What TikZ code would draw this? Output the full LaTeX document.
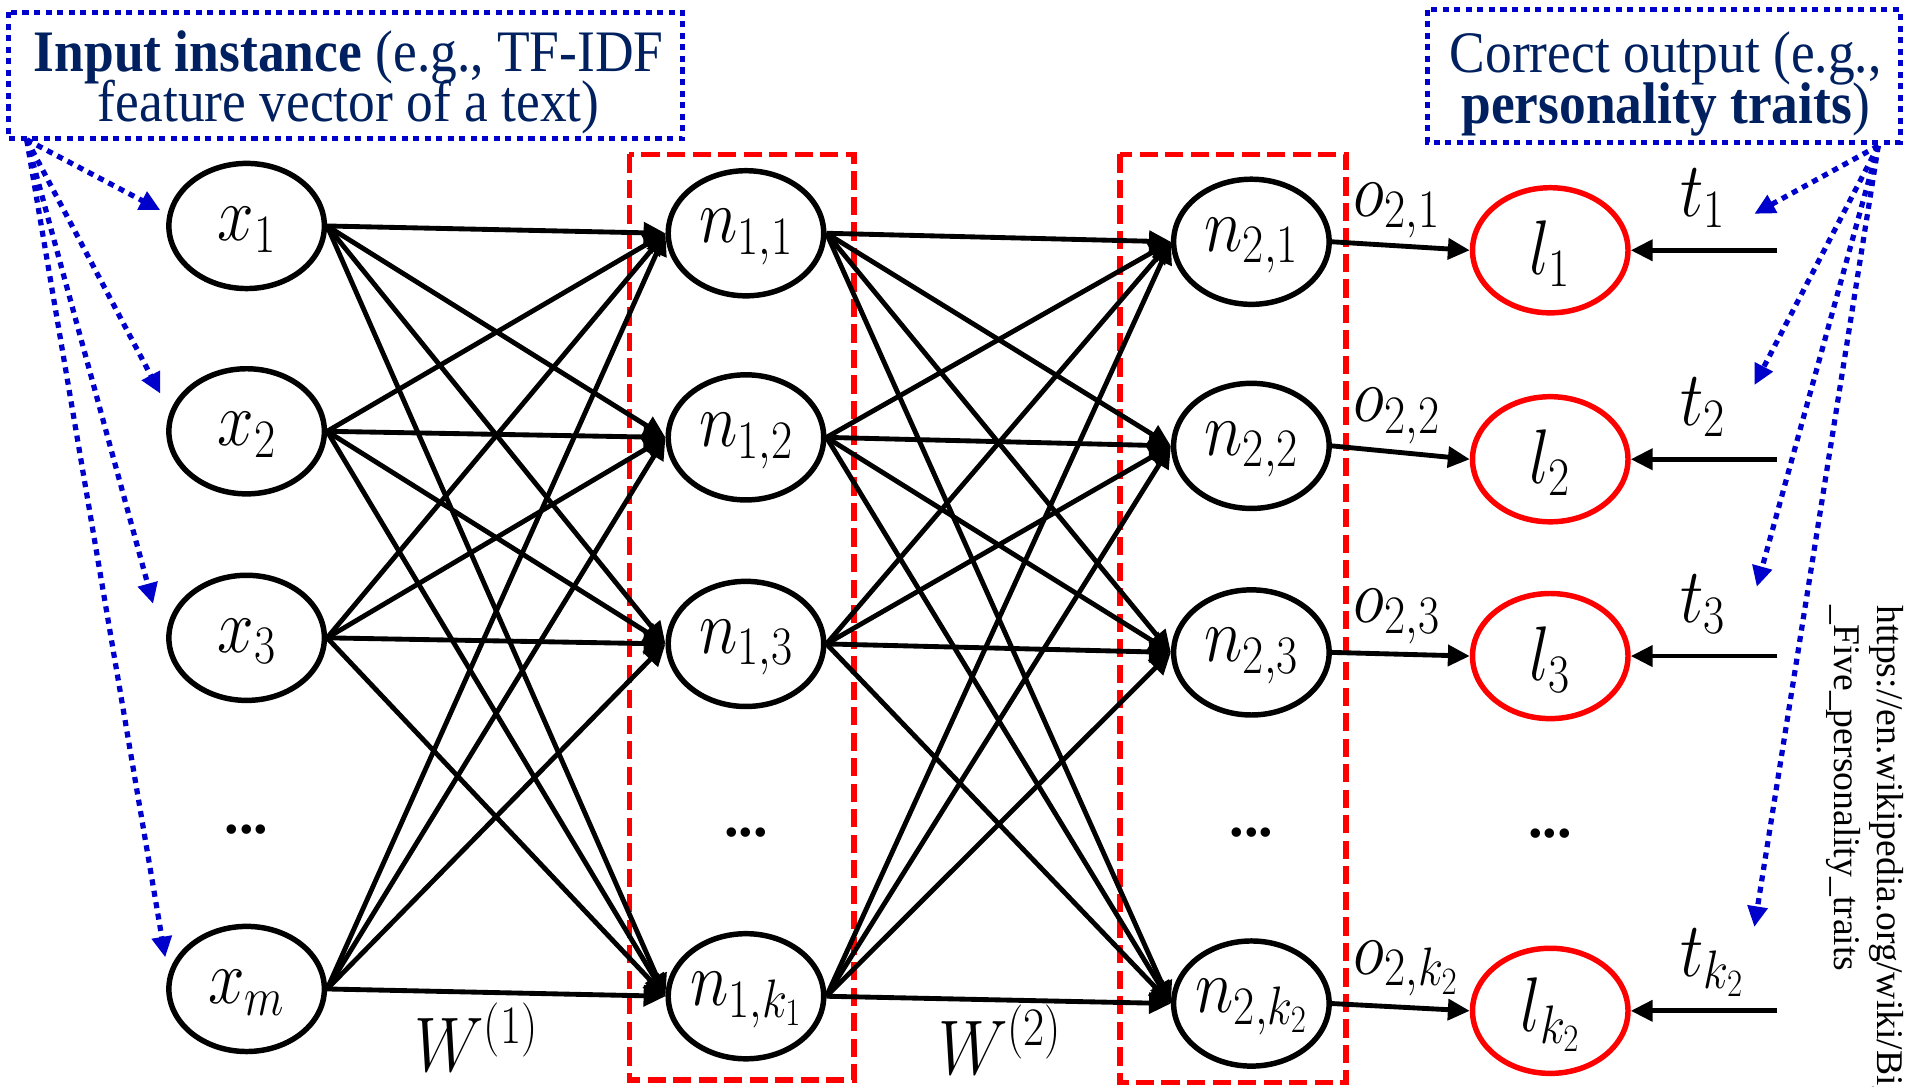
\RequirePackage{fix-cm}
\documentclass[tikz,border=0pt]{standalone}
\usepackage{graphicx}
\usepackage{fontspec}
\setmainfont{Liberation Serif}
\usetikzlibrary{arrows.meta,shapes.geometric}
\definecolor{navy}{RGB}{0,32,96}
\definecolor{dblue}{RGB}{0,0,204}
\definecolor{pred}{RGB}{255,0,0}
\newcommand{\vst}[1]{\scalebox{1}[1.18]{#1}}
\newcommand{\vtx}[1]{\scalebox{1}[1.1]{#1}}
\begin{document}
\begin{tikzpicture}[x=1pt,y=-1pt,
  neuron/.style={draw=black, line width=4.5pt, ellipse, minimum width=128pt, minimum height=103pt, inner sep=0pt},
  outneuron/.style={neuron, draw=pred},
  mlab/.style={font=\fontsize{54}{60}\selectfont, inner sep=0pt},
  btxt/.style={font=\fontsize{44}{44}\selectfont, text=navy, inner sep=0pt},
  dotsty/.style={font=\fontsize{48}{48}\selectfont\bfseries, inner sep=0pt},
  urlt/.style={font=\fontsize{31}{35}\selectfont, inner sep=0pt, align=left},
  conn/.style={line width=4pt, -{Triangle[length=18pt,width=17pt]}},
  bluearr/.style={draw=dblue, line width=4.3pt, dash pattern=on 5pt off 4.5pt, -{Triangle[length=17pt,width=16pt]}},
  bluebox/.style={draw=dblue, line width=4.3pt, dash pattern=on 5pt off 4.5pt},
  redbox/.style={draw=pred, line width=4.6pt, dash pattern=on 15pt off 6pt}]
\clip (0,0) rectangle (1568,894);

% red dashed layer boxes
\draw[redbox] (518,127) rectangle (703,889);
\draw[redbox] (922,127) rectangle (1108,891);

% input layer
\foreach \nm/\xx/\yy/\lab in {x1/203/186/{x_1}, x2/203/355/{x_2}, x3/203/525/{x_3}, x4/203/814/{x_m}} {
  \node[neuron] (\nm) at (\xx,\yy) {};
  \node[mlab] (\nm t) at ([yshift=-3pt]\nm.center) {\vst{$\lab$}};
}
% hidden layer 1
\foreach \nm/\xx/\yy/\lab in {na1/614/192/{n_{1,1}}, na2/614/360/{n_{1,2}}, na3/614/530/{n_{1,3}}, na4/614/820/{n_{1,k_1}}} {
  \node[neuron] (\nm) at (\xx,\yy) {};
  \node[mlab] (\nm t) at ([yshift=-3pt]\nm.center) {\vst{$\lab$}};
}
% hidden layer 2
\foreach \nm/\xx/\yy/\lab in {nb1/1030/199/{n_{2,1}}, nb2/1030/367/{n_{2,2}}, nb3/1030/537/{n_{2,3}}, nb4/1030/826/{n_{2,k_2}}} {
  \node[neuron] (\nm) at (\xx,\yy) {};
  \node[mlab] (\nm t) at ([yshift=-3pt]\nm.center) {\vst{$\lab$}};
}
% output (loss) layer
\foreach \nm/\xx/\yy/\lab in {l1/1276/206/{l_1}, l2/1276/378/{l_2}, l3/1276/540/{l_3}, l4/1276/832/{l_{k_2}}} {
  \node[outneuron] (\nm) at (\xx,\yy) {};
  \node[mlab] (\nm t) at ([yshift=-3pt]\nm.center) {\vst{$\lab$}};
}

% ellipsis dots
\node[dotsty] (d1) at (203,683) {...};
\node[dotsty] (d2) at (614,685) {...};
\node[dotsty] (d3) at (1030,685) {...};
\node[dotsty] (d4) at (1276,686) {...};

% full connections
\foreach \a in {1,...,4} {
  \foreach \b in {1,...,4} {
    \draw[conn] (x\a.east) -- (na\b.west);
    \draw[conn] (na\a.east) -- (nb\b.west);
  }
}

% weight labels
\node[mlab, anchor=base] (w1) at (392,882) {\vst{$W^{(1)}$}};
\node[mlab, anchor=base] (w2) at (823,884) {\vst{$W^{(2)}$}};

% outputs o and targets t
\foreach \i/\ly/\tlab in {1/206/{t_1}, 2/378/{t_2}, 3/540/{t_3}, 4/832/{t_{k_2}}} {
  \draw[conn] (nb\i.east) -- (l\i.west);
  \coordinate (ts\i) at (1463,\ly);
  \draw[conn] (ts\i) -- (l\i.east);
  \node[mlab, anchor=base west] (tl\i) at (1383,\ly-28) {\vst{$\tlab$}};
}
\node[mlab, anchor=base west] (o1) at (1114,178) {\vst{$o_{2,1}$}};
\node[mlab, anchor=base west] (o2) at (1114,347) {\vst{$o_{2,2}$}};
\node[mlab, anchor=base west] (o3) at (1114,512) {\vst{$o_{2,3}$}};
\node[mlab, anchor=base west] (o4) at (1114,802) {\vst{$o_{2,k_2}$}};

% input instance box
\draw[bluebox] (7,10) rectangle (562,114);
\node[btxt, anchor=base] (in1) at (287,59) {\vtx{\textbf{Input instance} (e.g., TF-IDF}};
\node[btxt, anchor=base] (in2) at (287,100) {\vtx{feature vector of a text)}};

% correct output box
\draw[bluebox] (1175,8) rectangle (1564,117);
\node[btxt, anchor=base] (co1) at (1371,60) {\vtx{Correct output (e.g.,}};
\node[btxt, anchor=base] (co2) at (1371,102) {\vtx{\textbf{personality traits})}};

% blue dotted arrows (left)
\coordinate (lsrc) at (22,115);
\coordinate (lt1) at (132,173);
\coordinate (lt2) at (132,324);
\coordinate (lt3) at (126,497);
\coordinate (lt4) at (136,788);
\foreach \i in {1,...,4} { \draw[bluearr] (lsrc) -- (lt\i); }

% blue dotted arrows (right)
\coordinate (rsrc) at (1546,120);
\coordinate (rt1) at (1444,176);
\coordinate (rt2) at (1444,317);
\coordinate (rt3) at (1446,483);
\coordinate (rt4) at (1444,763);
\foreach \i in {1,...,4} { \draw[bluearr] (rsrc) -- (rt\i); }

% source URL
\node[urlt, rotate=-90, anchor=north west] (url) at (1567,498) {https://en.wikipedia.org/wiki/Big\\\_Five\_personality\_traits};
\end{tikzpicture}
\end{document}
